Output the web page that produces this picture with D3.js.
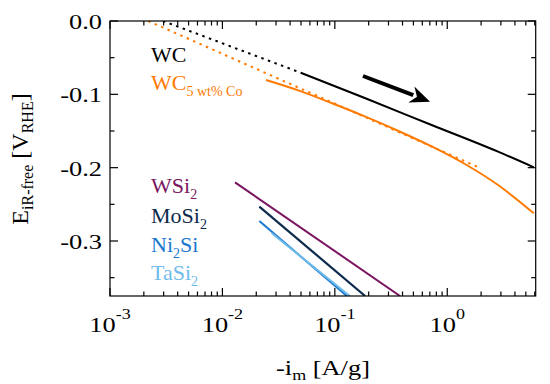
<!DOCTYPE html>
<html><head><meta charset="utf-8">
<script src="https://cdn.jsdelivr.net/npm/d3@7"></script>
<style>body{margin:0;background:#fff} svg{display:block}</style>
</head><body><svg id="c" width="550" height="384"></svg>
<script>
// ---- data ----
const wcX = [0.0497, 0.187, 0.726, 2.83, 5.89];
const wcY = [-0.0705, -0.1054, -0.1418, -0.1782, -0.1995];
const wcFitX = [0.00296, 0.0497];
const wcFitY = [0, -0.0705];
const wcCoX = [0.0244, 0.048, 0.0946, 0.187, 0.368, 0.726, 1.435, 2.83, 5.89];
const wcCoY = [-0.0805, -0.0950, -0.1122, -0.1305, -0.1500, -0.1711, -0.1950, -0.2236, -0.2622];
const wcCoFitX = [0.00219, 1.96];
const wcCoFitY = [0, -0.2005];
const wsi2X = [0.01294, 0.380];
const wsi2Y = [-0.220, -0.375];
const mosi2X = [0.0213, 0.186];
const mosi2Y = [-0.2532, -0.375];
const ni2siX = [0.0213, 0.128];
const ni2siY = [-0.2727, -0.375];
const tasi2X = [0.0275, 0.136];
const tasi2Y = [-0.2895, -0.375];
const arrowX = [0.178, 0.703];
const arrowY = [-0.075, -0.110];
const xTicks = [1e-3, 1e-2, 1e-1, 1];
const xTickExp = ["-3", "-2", "-1", "0"];
const yTicks = [0, -0.1, -0.2, -0.3];
const yTickLabels = ["0.0", "-0.1", "-0.2", "-0.3"];

// ---- layout ----
const FONT = "'Liberation Serif', 'Times New Roman', Times, serif";
const W = 550, H = 384;
const m = {l: 110, r: 14.3, t: 21, b: 88};
const x = d3.scaleLog().domain([1e-3, 6.12]).range([m.l, W - m.r]);
const y = d3.scaleLinear().domain([-0.375, 0]).range([H - m.b, m.t]);
const svg = d3.select("#c").attr("font-family", FONT);

const C = {wc: "#000000", co: "#ff7a00", wsi: "#7a1560", mo: "#0c2a4c", ni: "#1b78d0", ta: "#6fbbea"};

svg.append("clipPath").attr("id", "clip").append("rect")
  .attr("x", m.l).attr("y", m.t).attr("width", W - m.l - m.r).attr("height", H - m.t - m.b);

const g = svg.append("g").attr("clip-path", "url(#clip)");
const line = d3.line().x(d => x(d[0])).y(d => y(d[1])).curve(d3.curveMonotoneX);
const zip = (a, b) => a.map((v, i) => [v, b[i]]);

function draw(xs, ys, color, dash, w) {
  g.append("path").datum(zip(xs, ys)).attr("d", line)
    .attr("fill", "none").attr("stroke", color).attr("stroke-width", w || 2)
    .attr("stroke-dasharray", dash || null);
}
draw(wcFitX, wcFitY, C.wc, "2.5,4.5");
draw(wcCoFitX, wcCoFitY, C.co, "2.5,4.5");
draw(wcX, wcY, C.wc, null, 2);
draw(wcCoX, wcCoY, C.co, null, 2);
draw(wsi2X, wsi2Y, C.wsi, null, 2);
draw(mosi2X, mosi2Y, C.mo, null, 2.2);
draw(ni2siX, ni2siY, C.ni, null, 2);
draw(tasi2X, tasi2Y, C.ta, null, 2);

// ---- arrow ----
{
  const x0 = x(arrowX[0]), y0 = y(arrowY[0]), x1 = x(arrowX[1]), y1 = y(arrowY[1]);
  const dx = x1 - x0, dy = y1 - y0, L = Math.hypot(dx, dy);
  const ux = dx / L, uy = dy / L, px = -uy, py = ux;
  const hl = 20, hw = 8.5, notch = 6;
  svg.append("line").attr("x1", x0).attr("y1", y0)
    .attr("x2", x1 - ux * (hl - 2)).attr("y2", y1 - uy * (hl - 2))
    .attr("stroke", "#000").attr("stroke-width", 4);
  const bx = x1 - ux * hl, by = y1 - uy * hl;
  const pts = [[x1, y1], [bx + px * hw, by + py * hw], [x1 - ux * (hl - notch), y1 - uy * (hl - notch)], [bx - px * hw, by - py * hw]];
  svg.append("path").attr("d", "M" + pts.map(p => p.join(",")).join("L") + "Z").attr("fill", "#000");
}

// ---- axes frame & ticks ----
const ax = svg.append("g").attr("stroke", "#000").attr("stroke-width", 1.2);
ax.append("rect").attr("x", m.l).attr("y", m.t).attr("width", W - m.l - m.r).attr("height", H - m.t - m.b)
  .attr("fill", "none");
const xMinor = [];
for (let e = -3; e <= 0; e++) for (let k = 2; k <= 9; k++) { const v = k * Math.pow(10, e); if (v <= 6.12) xMinor.push(v); }
const yb = H - m.b, yt = m.t, xl = m.l, xr = W - m.r;
xTicks.forEach(v => {
  ax.append("line").attr("x1", x(v)).attr("x2", x(v)).attr("y1", yb).attr("y2", yb - 8);
  ax.append("line").attr("x1", x(v)).attr("x2", x(v)).attr("y1", yt).attr("y2", yt + 8);
});
xMinor.forEach(v => {
  ax.append("line").attr("x1", x(v)).attr("x2", x(v)).attr("y1", yb).attr("y2", yb - 4.5);
  ax.append("line").attr("x1", x(v)).attr("x2", x(v)).attr("y1", yt).attr("y2", yt + 4.5);
});
const yMinor = [-0.05, -0.15, -0.25, -0.35];
yTicks.forEach(v => {
  ax.append("line").attr("y1", y(v)).attr("y2", y(v)).attr("x1", xl).attr("x2", xl + 8);
  ax.append("line").attr("y1", y(v)).attr("y2", y(v)).attr("x1", xr).attr("x2", xr - 8);
});
yMinor.forEach(v => {
  ax.append("line").attr("y1", y(v)).attr("y2", y(v)).attr("x1", xl).attr("x2", xl + 4.5);
  ax.append("line").attr("y1", y(v)).attr("y2", y(v)).attr("x1", xr).attr("x2", xr - 4.5);
});

// tick labels (slightly wide type, like the reference)
const FS = 22, SX = 1.2;
xTicks.forEach((v, i) => {
  const t = svg.append("g").attr("transform", `translate(${x(v)},332) scale(${SX},1)`)
    .append("text").attr("text-anchor", "middle")
    .attr("font-family", FONT).attr("font-size", FS).attr("fill", "#000");
  t.append("tspan").text("10");
  t.append("tspan").attr("font-size", 15).attr("dy", -13).text(xTickExp[i]);
});
yTicks.forEach((v, i) => {
  svg.append("g").attr("transform", `translate(102,${y(v) + 8}) scale(${SX},1)`)
    .append("text").attr("text-anchor", "end")
    .attr("font-family", FONT).attr("font-size", FS).attr("fill", "#000").text(yTickLabels[i]);
});

// axis titles
{
  const t = svg.append("g").attr("transform", `translate(323,375) scale(${SX},1)`)
    .append("text").attr("text-anchor", "middle")
    .attr("font-family", FONT).attr("font-size", FS);
  t.append("tspan").text("-i");
  t.append("tspan").attr("font-size", 15).attr("dy", 5).text("m");
  t.append("tspan").attr("dy", -5).text(" [A/g]");
}
{
  const t = svg.append("text").attr("transform", "translate(28,159) rotate(-90)").attr("text-anchor", "middle")
    .attr("font-family", FONT).attr("font-size", 24);
  t.append("tspan").text("E");
  t.append("tspan").attr("font-size", 16).attr("dy", 5).text("iR-free");
  t.append("tspan").attr("dy", -5).text(" [V");
  t.append("tspan").attr("font-size", 16).attr("dy", 5).text("RHE");
  t.append("tspan").attr("dy", -5).text("]");
}

// legend labels
function label(yy, color, parts) {
  const t = svg.append("text").attr("x", 151).attr("y", yy).attr("font-family", FONT)
    .attr("font-size", 22).attr("fill", color);
  parts.forEach(p => {
    const s = t.append("tspan").text(p[0]);
    if (p[1] === "sub") s.attr("font-size", 14).attr("dy", 6);
    else if (p[1] === "back") s.attr("dy", -6);
  });
}
label(62, C.wc, [["WC"]]);
label(89.5, C.co, [["WC"], ["5 wt% Co", "sub"]]);
label(193, C.wsi, [["WSi"], ["2", "sub"]]);
label(223, C.mo, [["MoSi"], ["2", "sub"]]);
label(251.5, C.ni, [["Ni"], ["2", "sub"], ["Si", "back"]]);
label(280, C.ta, [["TaSi"], ["2", "sub"]]);
</script></body></html>
